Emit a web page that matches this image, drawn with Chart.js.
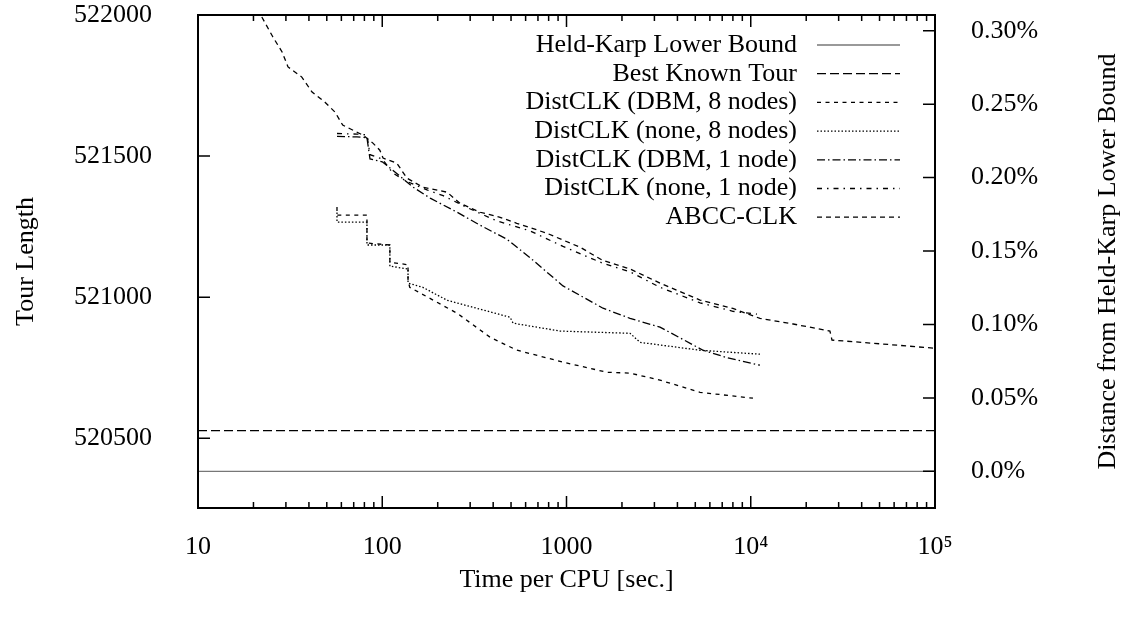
<!DOCTYPE html>
<html>
<head>
<meta charset="utf-8">
<script src="https://cdn.jsdelivr.net/npm/chart.js@4.4.1/dist/chart.umd.min.js"></script>
<style>
html, body { margin: 0; padding: 0; background: #fff; }
#wrap { width: 1127px; height: 623px; position: relative; }
</style>
</head>
<body>
<div id="wrap"><canvas id="tourChart"></canvas></div>
<script>
// reference lines
var heldKarpBound = 520383;
var bestKnownTour = 520527;
var boundTime = [10, 100000];

// axes
var xMin = 10, xMax = 100000;
var yMin = 520253, yMax = 522000;
var xTicks = [10, 100, 1000, 10000, 100000];
var xTickLabels = ['10', '100', '1000', '10\u2074', '10\u2075'];
var yTicks = [520500, 521000, 521500, 522000];
var y2Ticks = [0, 0.05, 0.10, 0.15, 0.20, 0.25, 0.30];
var y2TickLabels = ['0.0%', '0.05%', '0.10%', '0.15%', '0.20%', '0.25%', '0.30%'];

// DistCLK (DBM, 8 nodes)
var dbm8Time   = [56.8, 56.8, 82.6, 82.6, 110, 110, 138, 138, 141, 255, 385, 539, 957, 1660, 2213, 3217, 5306, 10280];
var dbm8Length = [521320, 521291, 521291, 521192, 521185, 521124, 521115, 521060, 521035, 520943, 520858, 520812, 520770, 520734, 520731, 520706, 520663, 520642];

// DistCLK (none, 8 nodes)
var none8Time   = [56.8, 56.8, 82.6, 82.6, 110, 110, 138, 138, 166, 225, 494, 513, 922, 2213, 2506, 5306, 11220];
var none8Length = [521300, 521266, 521266, 521185, 521185, 521110, 521100, 521050, 521035, 520989, 520929, 520908, 520880, 520872, 520840, 520812, 520798];

// DistCLK (DBM, 1 node)
var dbm1Time   = [56.8, 72.9, 82.6, 85.8, 100, 114, 147, 182, 255, 340, 476, 634, 957, 1578, 2213, 3217, 5508, 7500, 11220];
var dbm1Length = [521570, 521568, 521565, 521490, 521480, 521450, 521390, 521351, 521301, 521255, 521205, 521140, 521040, 520961, 520925, 520894, 520812, 520785, 520759];

// DistCLK (none, 1 node)
var none1Time   = [56.8, 72.9, 82.6, 85.8, 100, 114, 136, 175, 214, 288, 420, 634, 957, 1578, 2213, 3217, 5306, 8000, 10800];
var none1Length = [521580, 521578, 521575, 521505, 521490, 521440, 521410, 521380, 521360, 521318, 521270, 521235, 521180, 521120, 521090, 521035, 520980, 520950, 520940];

// ABCC-CLK
var abccTime   = [22.2, 25.5, 28.6, 30.8, 36.6, 41.6, 48.9, 55.4, 61, 78.7, 89, 97, 101, 120, 136, 166, 225, 264, 340, 432, 537, 780, 1185, 1578, 2213, 3217, 5306, 8000, 11220, 17000, 26900, 27600, 50000, 100000];
var abccLength = [521993, 521922, 521869, 521816, 521780, 521727, 521691, 521656, 521610, 521574, 521546, 521521, 521493, 521475, 521422, 521390, 521372, 521333, 521301, 521284, 521262, 521227, 521177, 521130, 521100, 521050, 520990, 520960, 520925, 520905, 520880, 520848, 520835, 520819];

var serif = "'Liberation Serif', 'DejaVu Serif', serif";
var fontSize = 26;

function toPoints(times, lengths)
{
    var pts = [];
    times.forEach(function (t, i) {
        pts.push({ x: t, y: lengths[i] });
    });
    return pts;
}

function constant(value)
{
    return boundTime.map(function () { return value; });
}

function lineSet(label, times, lengths, dash, color)
{
    return {
        label: label,
        data: toPoints(times, lengths),
        borderColor: color || '#000',
        borderWidth: 1.3,
        borderDash: dash,
        pointRadius: 0,
        fill: false,
        tension: 0
    };
}

// keep the plot box where gnuplot put it
function fixVertical(width)
{
    return function (scale) {
        scale.width = width;
        scale.paddingTop = 0;
        scale.paddingBottom = 0;
    };
}

var frameAndLegend = {
    id: 'frameAndLegend',
    afterDraw: function (chart) {
        var ctx = chart.ctx, a = chart.chartArea;
        var sx = chart.scales.x, sy = chart.scales.y, sy2 = chart.scales.y2;
        ctx.save();
        ctx.setLineDash([]);
        ctx.strokeStyle = '#000';
        ctx.lineWidth = 1.5;
        ctx.beginPath();
        xTicks.forEach(function (v, d) {
            var px = sx.getPixelForValue(v);
            ctx.moveTo(px, a.bottom); ctx.lineTo(px, a.bottom - 12);
            ctx.moveTo(px, a.top); ctx.lineTo(px, a.top + 12);
            if (d < xTicks.length - 1) {
                for (var m = 2; m <= 9; m++) {
                    var pm = sx.getPixelForValue(v * m);
                    ctx.moveTo(pm, a.bottom); ctx.lineTo(pm, a.bottom - 6);
                    ctx.moveTo(pm, a.top); ctx.lineTo(pm, a.top + 6);
                }
            }
        });
        yTicks.forEach(function (v) {
            var py = sy.getPixelForValue(v);
            ctx.moveTo(a.left, py); ctx.lineTo(a.left + 12, py);
        });
        y2Ticks.forEach(function (v) {
            var py = sy2.getPixelForValue(v);
            ctx.moveTo(a.right, py); ctx.lineTo(a.right - 12, py);
        });
        ctx.stroke();
        ctx.lineWidth = 2;
        ctx.strokeRect(a.left, a.top, a.right - a.left, a.bottom - a.top);

        // legend, gnuplot style: text right aligned, sample on the right
        ctx.font = fontSize + 'px ' + serif;
        ctx.fillStyle = '#000';
        ctx.textAlign = 'right';
        ctx.textBaseline = 'middle';
        chart.data.datasets.forEach(function (ds, i) {
            var ly = a.top + 30 + i * 28.7;
            ctx.fillText(ds.label, a.right - 138, ly);
            ctx.beginPath();
            ctx.strokeStyle = ds.borderColor;
            ctx.lineWidth = ds.borderWidth;
            ctx.setLineDash(ds.borderDash || []);
            ctx.moveTo(a.right - 118, ly);
            ctx.lineTo(a.right - 35, ly);
            ctx.stroke();
        });

        // right axis title reads bottom to top
        ctx.setLineDash([]);
        ctx.translate(1108, (a.top + a.bottom) / 2);
        ctx.rotate(-Math.PI / 2);
        ctx.textAlign = 'center';
        ctx.fillText('Distance from Held-Karp Lower Bound', 0, 0);
        ctx.restore();
    }
};

var tourChart = new Chart('tourChart', {
    type: 'line',
    data: {
        datasets: [
            lineSet('Held-Karp Lower Bound', boundTime, constant(heldKarpBound), [], '#777'),
            lineSet('Best Known Tour', boundTime, constant(bestKnownTour), [9, 4]),
            lineSet('DistCLK (DBM, 8 nodes)', dbm8Time, dbm8Length, [4, 4.5]),
            lineSet('DistCLK (none, 8 nodes)', none8Time, none8Length, [1.5, 2]),
            lineSet('DistCLK (DBM, 1 node)', dbm1Time, dbm1Length, [8, 3, 1.5, 3]),
            lineSet('DistCLK (none, 1 node)', none1Time, none1Length, [5, 5, 1.5, 5]),
            lineSet('ABCC-CLK', abccTime, abccLength, [5, 4])
        ]
    },
    options: {
        responsive: true,
        maintainAspectRatio: false,
        animation: false,
        devicePixelRatio: 1,
        layout: { padding: { top: 15, left: 0, right: 0, bottom: 0 } },
        plugins: {
            legend: { display: false },
            tooltip: { enabled: false }
        },
        scales: {
            x: {
                type: 'logarithmic',
                position: 'bottom',
                min: xMin,
                max: xMax,
                grid: { display: false },
                border: { display: false },
                afterBuildTicks: function (scale) {
                    scale.ticks = xTicks.map(function (v) { return { value: v }; });
                },
                afterFit: function (scale) {
                    scale.height = 115;
                    scale.paddingLeft = 0;
                    scale.paddingRight = 0;
                },
                ticks: {
                    autoSkip: false,
                    maxRotation: 0,
                    padding: 16,
                    color: '#000',
                    font: { family: serif, size: fontSize },
                    callback: function (value) {
                        var i = xTicks.indexOf(value);
                        return i >= 0 ? xTickLabels[i] : '';
                    }
                },
                title: {
                    display: true,
                    text: 'Time per CPU [sec.]',
                    color: '#000',
                    font: { family: serif, size: fontSize },
                    padding: { top: 0, bottom: 27 }
                }
            },
            y: {
                type: 'linear',
                position: 'left',
                min: yMin,
                max: yMax,
                grid: { display: false },
                border: { display: false },
                afterBuildTicks: function (scale) {
                    scale.ticks = yTicks.map(function (v) { return { value: v }; });
                },
                afterFit: fixVertical(198),
                ticks: {
                    padding: 38,
                    color: '#000',
                    font: { family: serif, size: fontSize },
                    callback: function (value) { return String(value); }
                },
                title: {
                    display: true,
                    text: 'Tour Length',
                    color: '#000',
                    font: { family: serif, size: fontSize },
                    padding: { top: 11, bottom: 0 }
                }
            },
            y2: {
                type: 'linear',
                position: 'right',
                min: (yMin - heldKarpBound) / heldKarpBound * 100,
                max: (yMax - heldKarpBound) / heldKarpBound * 100,
                grid: { display: false },
                border: { display: false },
                afterBuildTicks: function (scale) {
                    scale.ticks = y2Ticks.map(function (v) { return { value: v }; });
                },
                afterFit: fixVertical(192),
                ticks: {
                    padding: 28,
                    color: '#000',
                    font: { family: serif, size: fontSize },
                    callback: function (value) {
                        var i = y2Ticks.indexOf(value);
                        return i >= 0 ? y2TickLabels[i] : '';
                    }
                }
            }
        }
    },
    plugins: [frameAndLegend]
});
</script>
</body>
</html>
